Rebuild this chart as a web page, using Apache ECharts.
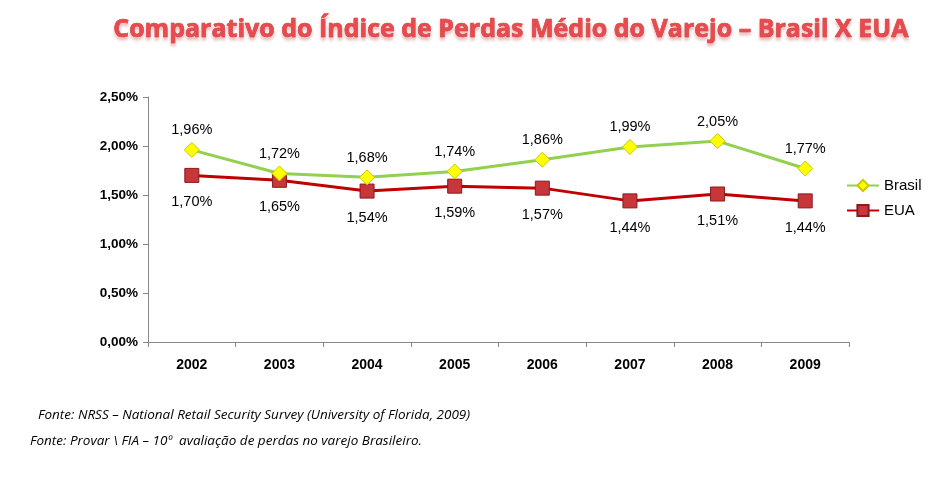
<!DOCTYPE html>
<html>
<head>
<meta charset="utf-8">
<script src="https://cdn.jsdelivr.net/npm/echarts@6/dist/echarts.min.js"></script>
<style>
  html, body { margin: 0; padding: 0; background: #fff; }
  #chart { width: 946px; height: 490px; }
</style>
</head>
<body>
<div id="chart"></div>
<script>
    var anos = ['2002', '2003', '2004', '2005', '2006', '2007', '2008', '2009'];
    var brasil = [1.96, 1.72, 1.68, 1.74, 1.86, 1.99, 2.05, 1.77];
    var eua = [1.70, 1.65, 1.54, 1.59, 1.57, 1.44, 1.51, 1.44];
    var fontes = [
        'Fonte: NRSS – National Retail Security Survey (University of Florida, 2009)',
        'Fonte: Provar \\ FIA – 10º  avaliação de perdas no varejo Brasileiro.'
    ];

    function pct(v) {
        return v.toFixed(2).replace('.', ',') + '%';
    }

    var myChart = echarts.init(document.getElementById('chart'));
    var option = {
        backgroundColor: '#fff',
        title: [{
            text: 'Comparativo do Índice de Perdas Médio do Varejo – Brasil X EUA',
            right: 32,
            top: 12,
            textStyle: {
                fontFamily: 'Open Sans',
                fontWeight: 'bold',
                fontSize: 25,
                color: '#e84a4e',
                textBorderColor: '#c0282d',
                textBorderWidth: 0.6,
                textShadowColor: 'rgba(200,40,40,0.3)',
                textShadowBlur: 3,
                textShadowOffsetY: 3
            }
        }, {
            text: fontes[0],
            left: 33,
            top: 403,
            textStyle: { fontFamily: 'Open Sans', fontStyle: 'italic', fontWeight: 'normal', fontSize: 13.5, color: '#000' }
        }, {
            text: fontes[1],
            left: 25,
            top: 429,
            textStyle: { fontFamily: 'Open Sans', fontStyle: 'italic', fontWeight: 'normal', fontSize: 13.5, color: '#000' }
        }],
        legend: {
            orient: 'vertical',
            left: 841,
            top: 173,
            itemGap: 10,
            itemWidth: 32,
            itemHeight: 14,
            textStyle: { fontFamily: 'Liberation Sans', fontSize: 15, color: '#000' },
            data: ['Brasil', 'EUA']
        },
        grid: { left: 148, right: 97, top: 97, bottom: 148 },
        xAxis: {
            type: 'category',
            data: anos,
            boundaryGap: true,
            axisLine: { lineStyle: { color: '#888' } },
            axisTick: { show: true, length: 5, lineStyle: { color: '#888' } },
            axisLabel: { fontFamily: 'Liberation Sans', fontWeight: 'bold', fontSize: 14, color: '#000', margin: 16 }
        },
        yAxis: {
            type: 'value',
            min: 0,
            max: 2.5,
            interval: 0.5,
            axisLine: { show: true, lineStyle: { color: '#888' } },
            axisTick: { show: true, length: 5, lineStyle: { color: '#888' } },
            splitLine: { show: false },
            axisLabel: { fontFamily: 'Liberation Sans', fontWeight: 'bold', fontSize: 13.5, color: '#000', margin: 10, formatter: pct }
        },
        series: [{
            name: 'Brasil',
            type: 'line',
            data: brasil,
            symbol: 'diamond',
            symbolSize: 15,
            lineStyle: { color: '#92d050', width: 3 },
            itemStyle: { color: '#ffff00', borderColor: '#c8c800', borderWidth: 1 },
            label: {
                show: true, position: 'top', distance: 4,
                fontFamily: 'Liberation Sans', fontSize: 14.5, color: '#000',
                formatter: function (p) { return pct(p.value); }
            },
            z: 3
        }, {
            name: 'EUA',
            type: 'line',
            data: eua,
            symbol: 'rect',
            symbolSize: 14,
            lineStyle: { color: '#c00000', width: 3 },
            itemStyle: { color: '#c8363a', borderColor: '#8a1a1c', borderWidth: 1 },
            label: {
                show: true, position: 'bottom', distance: 12,
                fontFamily: 'Liberation Sans', fontSize: 14.5, color: '#000',
                formatter: function (p) { return pct(p.value); }
            },
            z: 2
        }]
    };
    myChart.setOption(option);
</script>
</body>
</html>
